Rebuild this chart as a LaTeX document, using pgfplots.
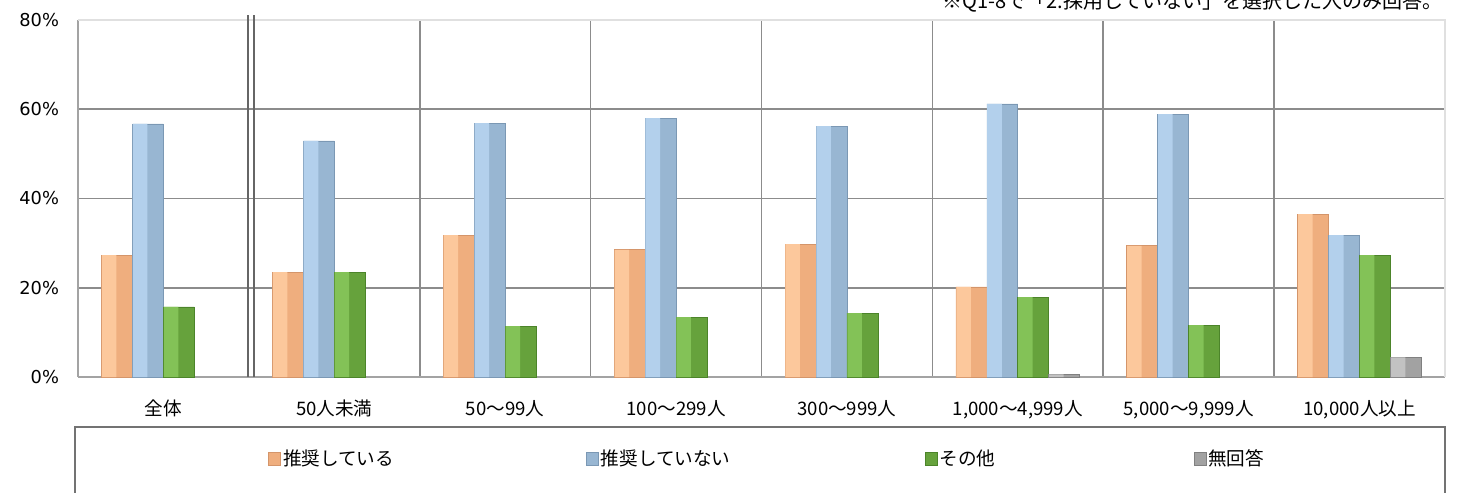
\documentclass[border=0pt]{standalone}
\usepackage{fontspec}
\setmainfont{Noto Sans CJK JP}
\newfontfamily\numfont{DejaVu Sans}
\usepackage{pgfplots}
\pgfplotsset{compat=1.18}

\definecolor{orL}{HTML}{FCC89C}
\definecolor{orM}{HTML}{EFAE7E}
\definecolor{orE}{HTML}{D4956A}
\definecolor{blL}{HTML}{B3D0EC}
\definecolor{blM}{HTML}{98B6D2}
\definecolor{blE}{HTML}{7B98B4}
\definecolor{grL}{HTML}{83C257}
\definecolor{grM}{HTML}{66A23C}
\definecolor{grE}{HTML}{4C842A}
\definecolor{gyL}{HTML}{C2C2C2}
\definecolor{gyM}{HTML}{A2A2A2}
\definecolor{gyE}{HTML}{808080}
\definecolor{gridc}{HTML}{8C8C8C}

% values in %
\pgfplotstableread{
x rec norec other
0 27.3 56.7 15.7
1 23.5 52.9 23.5
2 31.8 56.9 11.4
3 28.5 58.0 13.4
4 29.8 56.2 14.3
5 20.2 61.2 17.9
6 29.4 58.9 11.6
7 36.5 31.8 27.3
}\datatable
\pgfplotstableread{
x noans
5 0.6
7 4.4
}\noanstable

\begin{document}
\begin{tikzpicture}
\begin{axis}[
	at={(39pt,-188.5pt)}, anchor=south west,
	scale only axis, width=683.5pt, height=178.5pt,
	xmin=-0.5, xmax=7.5, ymin=0, ymax=80,
	bar width=0.181,
	xtick={0,...,7},
	xticklabels={全体,50人未満,50～99人,100～299人,300～999人,{1,000～4,999人},{5,000～9,999人},{10,000人以上}},
	xticklabel style={font=\fontsize{9.3}{11}\selectfont, yshift=-8pt},
	minor xtick={1.5,2.5,...,6.5},
	xminorgrids=true,
	ytick={0,20,40,60,80},
	yticklabel={\pgfmathprintnumber[assume math mode=true]{\tick}\%},
	yticklabel style={font=\numfont\fontsize{8.9}{10}\selectfont, xshift=-6pt},
	ymajorgrids=true,
	grid style={draw=gridc, line width=0.8pt},
	minor grid style={draw=gridc, line width=0.8pt},
	axis x line*=bottom, axis y line*=left,
	axis line style={draw=gridc!80, line width=1pt, -},
	major tick length=0pt, minor tick length=0pt,
	clip=false,
	legend columns=4,
	legend cell align=left,
	legend image code/.code={\draw[#1] (0pt,-3.3pt) rectangle (6pt,3.2pt);},
	legend style={at={(axis description cs:0.139,-0.2297)}, anchor=west,
		draw=none, fill=none, inner sep=0pt,
		nodes={inner sep=1pt, font=\fontsize{9.3}{11}\selectfont},
		/tikz/every even column/.append style={column sep=0pt}},
	base/.style={ybar, line width=0.35pt},
	hi/.style={ybar, draw=none, bar width=0.085, forget plot},
]
% bars: full bar in the darker tone, lighter left half on top
\addplot[base, draw=orE, fill=orM, bar shift=-0.2715] table[x=x, y=rec] {\datatable};
\addplot[hi, fill=orL, bar shift=-0.3175] table[x=x, y=rec] {\datatable};
\addplot[base, draw=blE, fill=blM, bar shift=-0.0905] table[x=x, y=norec] {\datatable};
\addplot[hi, fill=blL, bar shift=-0.1365] table[x=x, y=norec] {\datatable};
\addplot[base, draw=grE, fill=grM, bar shift=0.0905] table[x=x, y=other] {\datatable};
\addplot[hi, fill=grL, bar shift=0.0445] table[x=x, y=other] {\datatable};
\addplot[base, draw=gyE, fill=gyM, bar shift=0.2715] table[x=x, y=noans] {\noanstable};
\addplot[hi, fill=gyL, bar shift=0.2255] table[x=x, y=noans] {\noanstable};
\legend{\makebox[150.5pt][l]{推奨している},\makebox[161pt][l]{推奨していない},\makebox[126pt][l]{その他},無回答}
% light top and right frame, double separator line
\draw[draw=black!12, line width=0.8pt] (rel axis cs:0,1) -- (rel axis cs:1,1) -- (rel axis cs:1,0);
\draw[draw=black!60, line width=1.2pt] ([xshift=-0.5pt]axis cs:0.5,0) -- ([xshift=-0.5pt, yshift=2.5pt]axis cs:0.5,80);
\draw[draw=black!60, line width=1.2pt] ([xshift=2.5pt]axis cs:0.5,0) -- ([xshift=2.5pt, yshift=2.5pt]axis cs:0.5,80);
\end{axis}
% legend frame
\draw[draw=black!55, line width=0.7pt] (37.5pt,-260pt) -- (37.5pt,-213.5pt) -- (722.5pt,-213.5pt) -- (722.5pt,-260pt);
% note at the top, partly cut off as in the original
\node[anchor=base east, inner sep=0pt, font=\fontsize{10}{12}\selectfont] at (721.5pt,-4.3pt) {※Q1-8で「2.採用していない」を選択した人のみ回答。};
\pgfresetboundingbox
\path[use as bounding box] (0pt,0pt) rectangle (729.5pt,-246pt);
\end{tikzpicture}
\end{document}
